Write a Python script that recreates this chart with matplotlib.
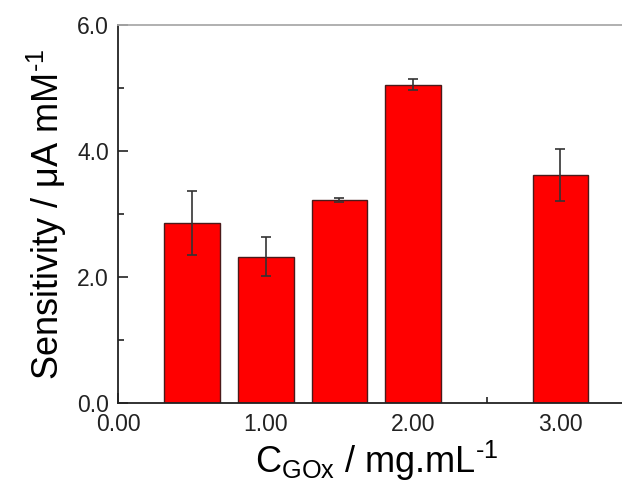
import matplotlib
matplotlib.use("Agg")
import matplotlib.pyplot as plt
from matplotlib.ticker import MultipleLocator, FormatStrFormatter

plt.rcParams['font.family'] = ['Liberation Sans', 'DejaVu Sans']
plt.rcParams['mathtext.fontset'] = 'custom'
plt.rcParams['mathtext.rm'] = 'Liberation Sans'
plt.rcParams['mathtext.it'] = 'Liberation Sans:italic'
plt.rcParams['axes.unicode_minus'] = False

concentration = [0.5, 1.0, 1.5, 2.0, 3.0]
sensitivity = [2.86, 2.33, 3.23, 5.06, 3.62]
error = [0.51, 0.31, 0.03, 0.08, 0.41]

fig = plt.figure(figsize=(6.22, 4.86), dpi=100)
ax = fig.add_axes([0.1905, 0.170, 0.829, 0.778])

ax.bar(concentration, sensitivity, width=0.378, color='#ff0000',
       edgecolor='#4a1a1a', linewidth=1.0, zorder=2)
ax.errorbar(concentration, sensitivity, yerr=error, fmt='none',
            ecolor='#333333', elinewidth=1.2, capsize=3.5, capthick=1.2, zorder=3)

ax.set_xlim(0, 3.5)
ax.set_ylim(0, 6.0)
ax.xaxis.set_major_locator(MultipleLocator(1.0))
ax.xaxis.set_minor_locator(MultipleLocator(0.5))
ax.yaxis.set_major_locator(MultipleLocator(2.0))
ax.yaxis.set_minor_locator(MultipleLocator(1.0))
ax.xaxis.set_major_formatter(FormatStrFormatter('%.2f'))
ax.yaxis.set_major_formatter(FormatStrFormatter('%.1f'))

ax.tick_params(which='both', direction='in', top=False, right=False,
               labelsize=16.5, colors='#222222')
ax.tick_params(which='major', length=7, width=1.2, pad=7)
ax.tick_params(which='minor', length=4, width=1.2)

for side in ['left', 'bottom']:
    ax.spines[side].set_color('#222222')
    ax.spines[side].set_linewidth(1.3)
ax.spines['top'].set_color('#aaaaaa')
ax.spines['top'].set_linewidth(1.3)
ax.spines['right'].set_visible(False)

ax.set_xlabel(r'C$_{\mathrm{GOx}}$ / mg.mL$^{\text{-}1}$', fontsize=26, labelpad=2)
ax.set_ylabel(r'Sensitivity / μA mM$^{\text{-}1}$', fontsize=26, labelpad=6)

fig.savefig('out.png', dpi=100)
